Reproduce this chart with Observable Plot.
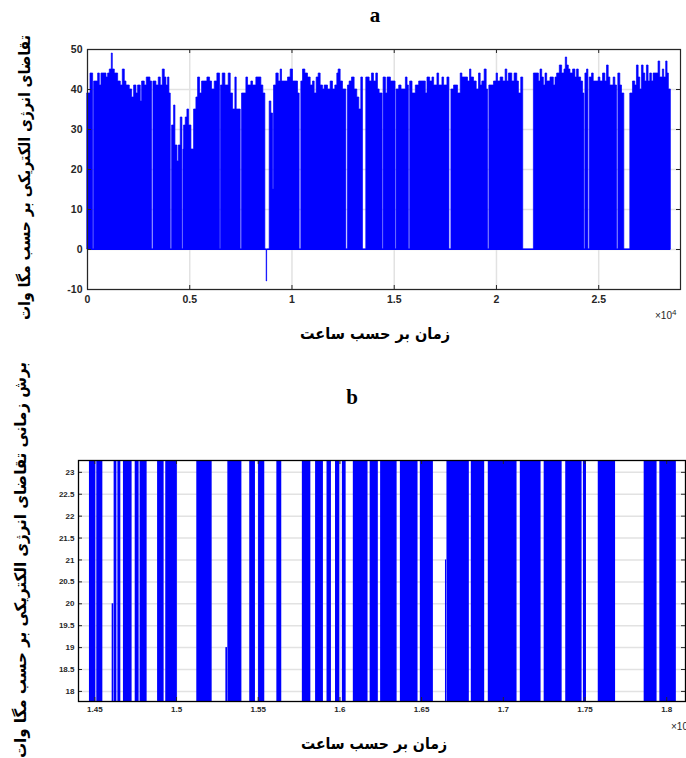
<!DOCTYPE html>
<html><head><meta charset="utf-8">
<script src="https://cdn.jsdelivr.net/npm/d3@7"></script>
<script src="https://cdn.jsdelivr.net/npm/@observablehq/plot@0.6"></script>
<style>
body{margin:0;background:#fff;overflow:hidden}
#root{position:relative;width:686px;height:758px;overflow:hidden;background:#fff}
#root svg{position:absolute;left:0}
</style></head><body><div id="root"></div>
<script>
// ---------- Panel a: hourly electric demand (MW), step envelope ----------
const aTime = [0,146,276,325,521,602,683,928,1009,1091,1188,1237,1335,1498,1628,1726,1824,1905,2068,2182,2280,2394,2475,2606,2671,2801,2899,3078,3159,3225,3371,3485,3583,3681,3779,3860,3941,4007,4072,4137,4235,4300,4398,4463,4560,4642,4691,4723,4805,4886,4968,5082,5212,5326,5408,5505,5603,5864,5994,6092,6222,6352,6483,6531,6613,6743,6906,7004,7118,7232,7297,7493,7558,7770,7851,8014,8095,8258,8503,8600,8698,8763,8785,8910,8991,9073,9122,9236,9350,9448,9513,9806,9936,10050,10295,10376,10457,10539,10653,10783,10914,11028,11109,11207,11305,11402,11516,11598,11761,11891,12005,12119,12217,12282,12380,12494,12657,12738,12820,12934,13064,13194,13292,13390,13471,13634,13797,13911,14009,14123,14204,14286,14431,14480,14594,14675,14838,15065,15114,15244,15358,15570,15651,15716,15781,15895,16057,16220,16545,16626,16756,16870,16952,17114,17196,17358,17439,17602,17700,17797,17927,18122,18252,18334,18610,18708,18773,18903,19033,19147,19228,19309,19423,19521,19586,19651,19878,20008,20074,20204,20334,20448,20529,20610,20773,20887,21017,21098,21212,21309,21830,22074,22155,22236,22317,22399,22480,22643,22805,22887,22968,23098,23212,23326,23391,23456,23537,23618,23748,23862,23943,24025,24139,24236,24301,24350,24431,24496,24561,24675,24756,25000,25082,25212,25326,25407,25488,25569,25732,25813,25895,25960,26057,26139,26252,26545,26675,26789,26870,26952,27033,27114,27195,27277,27358,27439,27521,27602,27683,27927,28008,28138,28203,28301,28366,28431,28529];
const aPeak = [39,44,0,42,44,41,44,43,44,45,49,45,44,42,41,45,42,41,40,38,41,39,41,37,42,41,43,42,0,42,41,43,41,45,43,41,43,39,0,31,36,26,22,26,33,0,25,31,33,35,31,25,35,38,43,39,42,43,42,40,42,44,0,41,44,41,44,39,35,43,35,0,39,43,41,42,41,43,41,39,0,-8,0,37,34,15,41,44,42,45,42,43,45,42,39,0,42,45,44,43,41,42,39,43,44,41,40,41,40,42,40,41,44,45,42,40,0,41,42,43,40,38,35,43,0,43,42,44,42,44,40,39,0,43,39,43,42,0,40,41,40,43,41,0,42,39,41,42,39,43,42,43,41,44,41,43,41,43,0,40,41,39,44,43,42,45,43,42,40,44,41,42,45,40,0,41,42,44,42,43,42,45,42,44,42,44,42,39,43,0,44,42,45,43,41,44,42,43,41,43,44,46,44,45,48,46,45,44,45,43,45,43,42,39,0,44,45,0,43,44,42,43,42,44,42,46,43,41,43,41,0,44,41,39,0,39,42,41,46,43,40,46,44,42,46,42,44,42,44,47,43,45,43,47,44,40,0];
const aXTicks = [0, 5000, 10000, 15000, 20000, 25000];
const aYTicks = [-10, 0, 10, 20, 30, 40, 50];

// ---------- Panel b: zoomed slice, switching bands ----------
const bStart = [14467,14512,14618,14641,14675,14747,14777,14884,14934,15124,15314,15448,15502,15614,15770,15851,15921,15973,16015,16082,16185,16249,16370,16492,16655,16804,16908,17104,17250,17382,17490,17581,17862,17958];
const bEnd   = [14506,14549,14635,14659,14728,14771,14820,14924,15005,15218,15400,15483,15540,15644,15822,15899,15948,15999,16038,16172,16235,16350,16478,16572,16792,16886,17084,17231,17360,17482,17509,17687,17941,18059];
const bPartStart = [14606, 15302, 16646];
const bPartEnd   = [14616, 15312, 16653];
const bPartTop   = [20, 19, 21];
const bLow = 0, bHigh = 40;
const bXTicks = [14500,15000,15500,16000,16500,17000,17500,18000];
const bYTicks = [18,18.5,19,19.5,20,20.5,21,21.5,22,22.5,23];

const BLUE = "#0000ff", AX = "#262626", GRID = "#e2e2e2";
const root = document.getElementById("root");

const aData = aTime.map((t, i) => ({t, v: aPeak[i]}));
const aW = 686 - 87 - 6, aH = 310 - 49 - 21;
const plotA = Plot.plot({
  width: 686, height: 310, marginLeft: 87, marginRight: 6, marginTop: 49, marginBottom: 21,
  x: {domain: [0, 29000]},
  y: {domain: [-10, 50]},
  style: {fontFamily: "'Liberation Sans', Arial, sans-serif", fontSize: "10.5px", fontWeight: "bold", color: AX, background: "white"},
  marks: [
    Plot.gridX(aXTicks, {stroke: GRID, strokeOpacity: 1, strokeWidth: 1.5}),
    Plot.gridY(aYTicks, {stroke: GRID, strokeOpacity: 1, strokeWidth: 1.5}),
    Plot.ruleY([0], {x1: aTime[0], x2: aTime[aTime.length - 1], stroke: BLUE, strokeWidth: 1}),
    Plot.areaY(aData, {x: "t", y: "v", curve: "step-after", fill: BLUE, stroke: BLUE, strokeWidth: 0.7}),
    Plot.axisX(aXTicks, {tickSize: 0, tickPadding: 6, label: null, tickFormat: d => String(d / 1e4), fill: AX}),
    Plot.axisY(aYTicks, {tickSize: 0, tickPadding: 5, label: null, tickFormat: d => String(d), fill: AX}),
    Plot.ruleX(aXTicks, {stroke: AX, insetTop: aH - 4}),
    Plot.ruleX(aXTicks, {stroke: AX, insetBottom: aH - 4}),
    Plot.ruleY(aYTicks, {stroke: AX, insetRight: aW - 4}),
    Plot.ruleY(aYTicks, {stroke: AX, insetLeft: aW - 4}),
    Plot.frame({stroke: AX, strokeWidth: 1.2})
  ]
});
plotA.style.top = "0px";
root.appendChild(plotA);

const bBands = bStart.map((s, i) => ({x1: s, x2: bEnd[i], y1: bLow, y2: bHigh}));
const bParts = bPartStart.map((s, i) => ({x1: s, x2: bPartEnd[i], y1: bLow, y2: bPartTop[i]}));
const bW = 686 - 78 - 1, bH = 280 - 20 - 19;
const plotB = Plot.plot({
  width: 686, height: 280, marginLeft: 78, marginRight: 1, marginTop: 20, marginBottom: 19,
  x: {domain: [14400, 18115]},
  y: {domain: [17.77, 23.27]},
  style: {fontFamily: "'Liberation Sans', Arial, sans-serif", fontSize: "8px", fontWeight: "bold", color: AX, background: "white"},
  marks: [
    Plot.gridX(bXTicks, {stroke: GRID, strokeOpacity: 1, strokeWidth: 1.5}),
    Plot.gridY(bYTicks, {stroke: GRID, strokeOpacity: 1, strokeWidth: 1.5}),
    Plot.rect(bBands, {x1: "x1", x2: "x2", y1: "y1", y2: "y2", fill: BLUE, clip: true}),
    Plot.rect(bParts, {x1: "x1", x2: "x2", y1: "y1", y2: "y2", fill: BLUE, clip: true}),
    Plot.axisX(bXTicks, {tickSize: 0, tickPadding: 5, label: null, tickFormat: d => String(d / 1e4), fill: AX}),
    Plot.axisY(bYTicks, {tickSize: 0, tickPadding: 4, label: null, tickFormat: d => String(d), fill: AX}),
    Plot.ruleX(bXTicks, {stroke: AX, insetTop: bH - 4}),
    Plot.ruleX(bXTicks, {stroke: AX, insetBottom: bH - 4}),
    Plot.ruleY(bYTicks, {stroke: AX, insetRight: bW - 4}),
    Plot.ruleY(bYTicks, {stroke: AX, insetLeft: bW - 4}),
    Plot.frame({stroke: "#000", strokeWidth: 1.3})
  ]
});
plotB.style.top = "440px";
root.appendChild(plotB);

// ---------- titles and axis labels (overlay) ----------
const svg = d3.select(root).append("svg")
  .attr("width", 686).attr("height", 758)
  .style("top", "0px").style("pointer-events", "none");

const ar = "'DejaVu Sans', sans-serif";
function label(x, y, txt, len, rot) {
  svg.append("text")
    .attr("transform", `translate(${x},${y})` + (rot ? " rotate(-90)" : ""))
    .attr("text-anchor", "middle").attr("dominant-baseline", "central")
    .attr("font-family", ar).attr("font-weight", "bold").attr("font-size", 16)
    .attr("fill", "#000")
    .attr("textLength", len).attr("lengthAdjust", "spacingAndGlyphs")
    .text(txt);
}
svg.append("text").attr("x", 375).attr("y", 21.5).attr("text-anchor", "middle")
  .attr("font-family", "'Liberation Serif', serif").attr("font-weight", "bold").attr("font-size", 21).text("a");
svg.append("text").attr("x", 352).attr("y", 404).attr("text-anchor", "middle")
  .attr("font-family", "'Liberation Serif', serif").attr("font-weight", "bold").attr("font-size", 21).text("b");

label(375, 333, "زمان بر حسب ساعت", 150, false);
label(374, 743, "زمان بر حسب ساعت", 146, false);
label(24, 177.5, "تقاضای انرژی الکتریکی بر حسب مگا وات", 285, true);
label(20, 560, "برش زمانی تقاضای انرژی الکتریکی بر حسب مگا وات", 396, true);

function exp10(x, y) {
  const t = svg.append("text").attr("x", x).attr("y", y)
    .attr("font-family", "'Liberation Sans', Arial, sans-serif").attr("font-size", 10).attr("fill", AX);
  t.append("tspan").text("×10");
  t.append("tspan").attr("dy", -4).attr("font-size", 8).text("4");
}
exp10(655, 318.5);
exp10(671, 730);
</script></body></html>
